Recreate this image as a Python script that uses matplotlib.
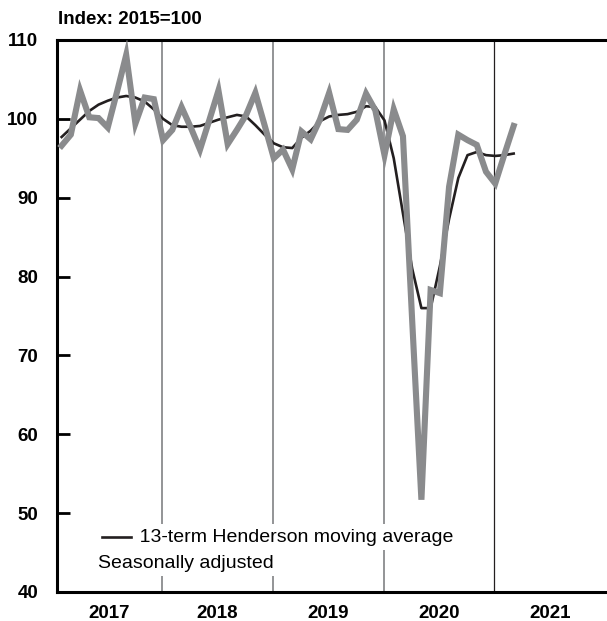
import matplotlib
matplotlib.use("Agg")
import matplotlib.pyplot as plt

plt.rcParams['font.family'] = ['Liberation Sans', 'DejaVu Sans']

# monthly index values, Jan 2017 .. Feb 2021
seas_adj = [96.6, 98.0, 103.6, 100.2, 100.1, 98.9, 103.4, 108.1, 99.4, 102.7, 102.5, 97.3,
            98.6, 101.5, 98.9, 96.1, 99.8, 103.6, 96.8, 98.6, 100.5, 103.3, 99.2, 95.0,
            96.1, 93.6, 98.4, 97.4, 99.9, 103.3, 98.7, 98.6, 99.9, 103.2, 101.1, 95.4,
            101.2, 97.8, 74.4, 51.7, 78.3, 77.9, 91.4, 98.0, 97.3, 96.7, 93.3, 91.8,
            95.5, 99.1]
henderson = [97.7, 98.8, 99.9, 101.0, 101.8, 102.3, 102.7, 102.9, 102.7, 102.2, 101.2, 100.0,
             99.2, 99.0, 99.0, 99.1, 99.5, 99.9, 100.2, 100.5, 100.3, 99.2, 98.0, 96.9,
             96.4, 96.3, 97.6, 98.5, 99.7, 100.3, 100.5, 100.6, 100.9, 101.6, 101.5, 99.8,
             95.0, 88.0, 81.0, 76.0, 76.0, 81.3, 87.3, 92.5, 95.4, 95.8, 95.4, 95.3,
             95.4, 95.6]
years = ['2017', '2018', '2019', '2020', '2021']
yticks = [40, 50, 60, 70, 80, 90, 100, 110]

months = list(range(len(seas_adj)))
GREY = '#8a8b8d'

fig = plt.figure(figsize=(6.07, 6.21), dpi=100)
ax = fig.add_axes([57 / 607, 29 / 621, 548 / 607, 552 / 621])

# year separators
bounds = [-0.5 + 11.4 + 12 * k for k in range(4)]
for k, b in enumerate(bounds):
    if k < 3:
        ax.axvline(b, color=GREY, lw=1.3, zorder=1)
    else:
        ax.axvline(b, color='#231f20', lw=0.9, zorder=1)

ax.plot(months, henderson, color='#231f20', lw=1.9, zorder=3)
ax.plot(months, seas_adj, color=GREY, lw=4.4, zorder=4, solid_joinstyle='miter')

ax.set_xlim(-0.5, 58.9)
ax.set_ylim(40, 110)

edges = [-0.5] + bounds + [58.9]
centers = [(edges[i] + edges[i + 1]) / 2 for i in range(len(years))]
ax.set_xticks(centers)
ax.set_xticklabels(years, fontsize=13.5, fontweight='bold')
ax.tick_params(axis='x', length=0, pad=9)

ax.set_yticks(yticks)
ax.set_yticklabels([str(v) for v in yticks], fontsize=13.5, fontweight='bold')
ax.tick_params(axis='y', direction='in', length=9.5, width=2, pad=13.5)

for s in ['left', 'bottom', 'top']:
    ax.spines[s].set_linewidth(2.2)
ax.spines['right'].set_visible(False)

fig.text(58 / 607, 1 - 20 / 621, 'Index: 2015=100', fontsize=13.5, fontweight='bold',
         va='center', ha='left')

# legend rows
ax.text((102 - 57) / 548, 1 - (537 - 40) / 552, ' ' * 7 + '13-term Henderson moving average',
        transform=ax.transAxes, fontsize=14, va='center', ha='left', zorder=5,
        bbox=dict(facecolor='white', edgecolor='none', pad=3))
ax.text((98 - 57) / 548, 1 - (563 - 40) / 552, 'Seasonally adjusted',
        transform=ax.transAxes, fontsize=14, va='center', ha='left', zorder=5,
        bbox=dict(facecolor='white', edgecolor='none', pad=3))
ax.plot([(102 - 57) / 548, (131 - 57) / 548], [1 - (537 - 40) / 552] * 2,
        transform=ax.transAxes, color='#231f20', lw=1.9, zorder=6)

fig.savefig('out.png', dpi=100)
